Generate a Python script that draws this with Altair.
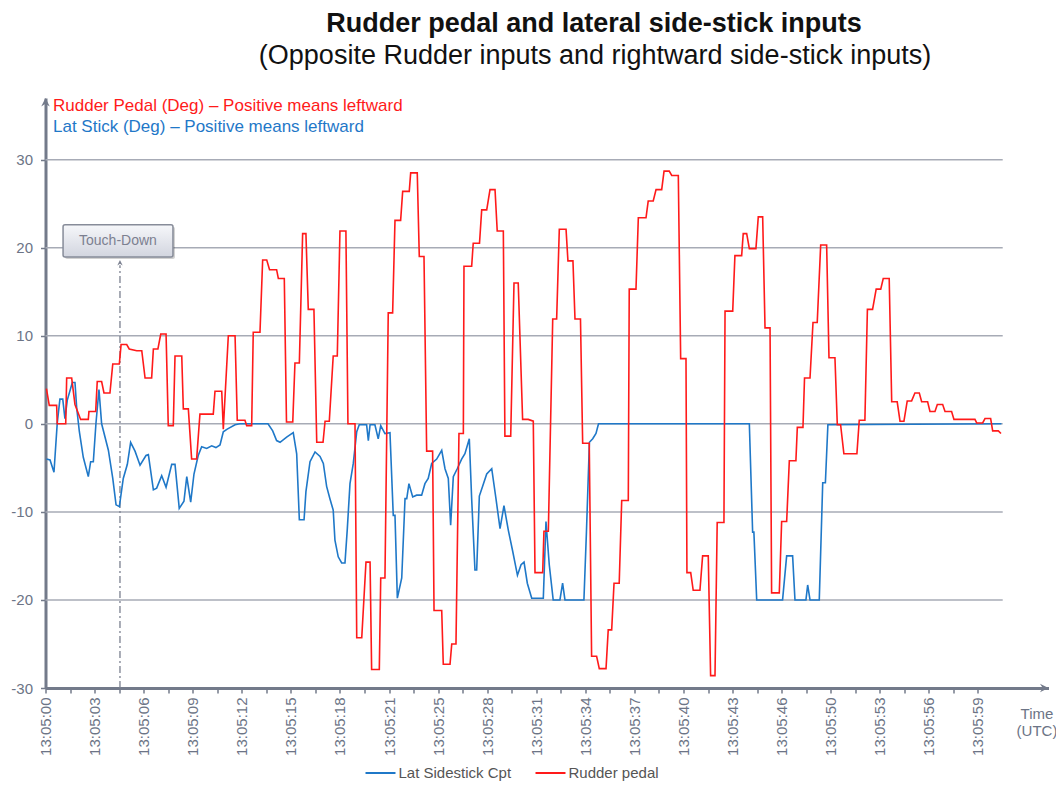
import json
import altair as alt
import pandas as pd

FONT = "Liberation Sans, Arial, Helvetica, sans-serif"

# ---------------- text ----------------
title_text = "Rudder pedal and lateral side-stick inputs"
subtitle_text = "(Opposite Rudder inputs and rightward side-stick inputs)"
rudder_axis_text = "Rudder Pedal (Deg) \u2013 Positive means leftward"
stick_axis_text = "Lat Stick (Deg) \u2013 Positive means leftward"
time_title = "Time\n(UTC)"
touchdown_label = "Touch-Down"

series_names = ["Lat Sidestick Cpt", "Rudder pedal"]
series_colors = ["#1f78c8", "#ff1a1a"]

# ---------------- data (seconds after 13:05:00, degrees) ----------------
rudder_t = [0.06, 0.24, 0.71, 0.75, 1.29, 1.35, 1.67, 1.88, 2.24, 2.73, 2.77, 3.20, 3.30, 3.58, 3.73, 4.11,
            4.29, 4.71, 4.82, 5.18, 5.34, 5.82, 6.14, 6.35, 6.77, 6.88, 7.17, 7.35, 7.69, 7.83, 8.15, 8.26,
            8.69, 8.79, 9.11, 9.32, 9.64, 9.85, 10.70, 10.81, 11.24, 11.34, 11.66, 12.09, 12.23, 12.72, 12.83,
            13.15, 13.25, 13.68, 13.85, 14.11, 14.29, 14.74, 14.85, 15.23, 15.37, 15.77, 15.91, 16.19, 16.40,
            16.61, 16.76, 17.12, 17.30, 17.70, 17.83, 18.10, 18.35, 18.61, 18.78, 19.16, 19.29, 19.74, 19.85,
            20.17, 20.44, 20.70, 20.80, 21.29, 21.38, 21.65, 21.86, 22.14, 22.29, 22.65, 22.78, 23.20, 23.29,
            23.71, 23.84, 24.14, 24.31, 24.69, 24.78, 25.27, 25.37, 25.80, 25.91, 26.18, 26.37, 26.65, 26.69,
            27.18, 27.28, 27.68, 27.82, 28.14, 28.35, 28.67, 28.81, 29.20, 29.30, 29.67, 29.88, 30.15, 30.43,
            30.79, 31.11, 31.22, 31.71, 31.79, 32.07, 32.35, 32.60, 32.77, 33.20, 33.32, 33.64, 33.77, 34.12,
            34.26, 34.68, 34.83, 35.15, 35.32, 35.75, 35.89, 36.11, 36.26, 36.59, 36.75, 37.17, 37.23, 37.66,
            37.81, 38.30, 38.44, 38.76, 38.94, 39.30, 39.45, 39.78, 39.94, 40.36, 40.51, 40.85, 40.91, 41.15,
            41.31, 41.74, 41.91, 42.27, 42.42, 42.70, 42.84, 43.27, 43.34, 43.83, 43.97, 44.40, 44.50, 44.72,
            44.89, 45.31, 45.46, 45.74, 45.89, 46.21, 46.31, 46.80, 46.95, 47.27, 47.44, 47.86, 47.95, 48.31,
            48.41, 48.76, 48.95, 49.22, 49.44, 49.82, 49.97, 50.35, 50.50, 50.71, 50.92, 51.75, 51.90, 52.26,
            52.42, 52.75, 52.98, 53.27, 53.43, 53.81, 53.97, 54.32, 54.50, 54.75, 54.96, 55.24, 55.45, 55.73,
            55.88, 56.26, 56.41, 56.73, 56.88, 57.22, 57.37, 57.79, 57.94, 59.28, 59.39, 59.77, 59.92, 60.28,
            60.41, 60.77, 60.94]
rudder_v = [4.0, 2.1, 2.1, 0.0, 0.0, 5.2, 5.2, 2.2, 0.5, 0.5, 1.4, 1.4, 4.8, 4.8, 3.5, 3.5,
            6.8, 6.8, 9.0, 9.0, 8.5, 8.3, 8.3, 5.2, 5.2, 8.5, 8.5, 10.2, 10.2, -0.2, -0.2, 7.7,
            7.7, 1.7, 1.7, -4.0, -4.0, 1.1, 1.1, 3.7, 3.7, -0.6, 10.0, 10.0, 0.4, 0.4, -0.2,
            -0.2, 10.4, 10.4, 18.6, 18.6, 17.5, 17.5, 16.5, 16.5, 0.2, 0.2, 6.9, 6.9, 21.6,
            21.6, 13.0, 13.0, -2.1, -2.1, 0.3, 0.3, 7.7, 7.7, 21.9, 21.9, 0.0, 0.0, -24.3,
            -24.3, -15.7, -15.7, -27.9, -27.9, -17.5, -17.5, 12.6, 12.6, 23.1, 23.1, 26.4, 26.4, 28.5,
            28.5, 19.0, 19.0, -3.1, -3.1, -21.2, -21.2, -27.3, -27.3, -25.0, -25.0, -1.1, -1.1, 17.9,
            17.9, 20.5, 20.5, 24.3, 24.3, 26.6, 26.6, 21.9, 21.9, -1.4, -1.4, 16.0, 16.0, 0.5,
            0.5, 0.3, -16.9, -16.9, -12.2, -12.2, 11.9, 11.9, 22.1, 22.1, 18.5, 18.5, 11.9, 11.9,
            -2.2, -2.2, -26.4, -26.4, -27.8, -27.8, -23.4, -23.4, -18.1, -18.1, -8.7, -8.7, 15.3, 15.3,
            23.4, 23.4, 25.3, 25.3, 26.6, 26.6, 28.7, 28.7, 28.2, 28.2, 7.4, 7.4, -16.9, -16.9,
            -18.9, -18.9, -15.0, -15.0, -28.6, -28.6, -11.2, -11.2, 12.8, 12.8, 19.1, 19.1, 21.6, 21.6,
            19.9, 19.9, 23.5, 23.5, 10.9, 10.9, -19.2, -19.2, -11.1, -11.1, -4.2, -4.2, -0.4, -0.4,
            5.2, 5.2, 11.5, 11.5, 20.3, 20.3, 7.5, 7.5, -0.1, -0.1, -3.4, -3.4, 0.4, 0.4,
            13.0, 13.0, 15.3, 15.3, 16.5, 16.5, 2.5, 2.5, 0.3, 0.3, 2.6, 2.6, 3.5, 3.5,
            2.5, 2.5, 1.4, 1.4, 2.2, 2.2, 1.4, 1.4, 0.5, 0.5, 0.1, 0.1, 0.6, 0.6,
            -0.8, -0.8, -1.1]

stick_t = [0.06, 0.29, 0.54, 0.75, 0.92, 1.10, 1.24, 1.39, 1.71, 1.88, 1.99, 2.16, 2.41, 2.73, 2.88, 3.05,
           3.22, 3.41, 3.58, 4.01, 4.29, 4.50, 4.71, 4.96, 5.22, 5.43, 5.71, 6.03, 6.41, 6.56, 6.88, 7.09,
           7.41, 7.69, 8.05, 8.26, 8.53, 8.83, 9.01, 9.26, 9.47, 9.74, 9.96, 10.28, 10.60, 10.87, 11.13,
           11.34, 11.59, 12.09, 12.40, 14.19, 14.49, 14.74, 14.96, 15.38, 15.80, 16.02, 16.19, 16.49, 16.61,
           16.87, 17.19, 17.51, 17.72, 17.93, 18.14, 18.35, 18.46, 18.67, 18.89, 19.10, 19.25, 19.42, 19.63,
           19.85, 20.01, 20.48, 20.59, 20.70, 21.01, 21.22, 21.38, 21.65, 21.97, 22.18, 22.29, 22.44, 22.72,
           22.93, 23.04, 23.18, 23.42, 23.67, 23.99, 24.20, 24.41, 24.63, 24.95, 25.27, 25.48, 25.69, 25.84,
           26.01, 26.26, 26.54, 26.75, 27.03, 27.18, 27.39, 27.50, 27.67, 27.88, 28.14, 28.46, 28.73, 28.99,
           29.24, 29.52, 29.80, 30.10, 30.33, 30.52, 30.73, 31.01, 31.75, 31.92, 32.13, 32.38, 32.81, 32.98,
           33.13, 34.34, 34.50, 34.69, 34.90, 35.11, 35.27, 44.89, 45.10, 45.18, 45.36, 47.01, 47.27, 47.65,
           47.80, 48.50, 48.61, 48.76, 49.35, 49.57, 49.74, 49.90, 60.97]
stick_v = [-4.0, -4.1, -5.5, 0.1, 2.8, 2.8, 0.6, 2.7, 4.7, 4.7, 1.8, -0.9, -3.8, -6.0, -4.3, -4.3,
           0.1, 3.9, 0.0, -3.0, -6.2, -9.2, -9.4, -6.2, -4.6, -2.1, -3.1, -4.7, -3.6, -3.5, -7.5, -7.3,
           -5.9, -7.2, -4.6, -4.6, -9.6, -8.8, -6.0, -8.9, -5.7, -3.6, -2.6, -2.8, -2.5, -2.7, -2.4,
           -0.9, -0.6, -0.1, 0.0, 0.0, -0.8, -1.9, -2.1, -1.5, -1.0, -3.4, -10.9, -10.9, -7.7,
           -4.3, -3.2, -3.7, -4.5, -7.1, -8.5, -9.8, -13.2, -15.1, -15.8, -15.8, -11.9, -6.8, -4.5,
           -0.9, -0.1, -0.1, -1.9, -0.1, -0.1, -1.7, -0.2, -1.1, -1.0, -10.4, -10.4, -19.8, -17.5,
           -8.5, -8.5, -6.8, -8.3, -8.1, -8.1, -6.8, -6.2, -4.5, -4.0, -3.0, -5.1, -6.2, -11.5,
           -6.0, -5.1, -4.0, -3.4, -1.7, -8.5, -16.6, -16.6, -8.2, -7.1, -5.7, -5.1, -8.5, -11.9,
           -9.3, -12.1, -14.5, -17.2, -16.0, -15.7, -18.1, -19.8, -19.8, -11.1, -16.0, -20.0, -20.0, -18.1,
           -20.0, -20.0, -12.3, -2.1, -1.7, -1.1, 0.0, 0.0, -12.3, -12.3, -20.0, -20.0, -15.0, -15.0,
           -20.0, -20.0, -18.3, -20.0, -20.0, -6.7, -6.7, -0.1, 0.0]

# ---------------- axes ----------------
tick_labels = ["13:05:00", "13:05:03", "13:05:06", "13:05:09", "13:05:12", "13:05:15", "13:05:18",
               "13:05:21", "13:05:25", "13:05:28", "13:05:31", "13:05:34", "13:05:37", "13:05:40",
               "13:05:43", "13:05:46", "13:05:50", "13:05:53", "13:05:56", "13:05:59"]
tick_step = 3.13          # seconds between labelled ticks
y_ticks = [-30, -20, -10, 0, 10, 20, 30]
grid_vals = [-20, -10, 0, 10, 20, 30]
grid_end = 61.05
x_max = 63.97
y_min, y_max = -30, 37

# annotation values
touchdown_t = 4.75
touchdown_top = 18.0
touchdown_tip = 18.6
box_t = [1.12, 8.13]
box_v = [18.95, 22.6]
box_text_pos = [4.62, 20.75]

AXIS_GREY = "#737a8a"
LABEL_GREY = "#6c7486"

minor_ticks = [round(i * tick_step / 2, 4) for i in range(2 * len(tick_labels) - 1)]
half = tick_step / 2
label_expr = (f"round(datum.value / {half}) % 2 == 0 ? "
              f"{json.dumps(tick_labels)}[round(datum.value / {tick_step})] : ''")

x_scale = alt.Scale(domain=[0, x_max], nice=False, zero=False)
y_scale = alt.Scale(domain=[y_min, y_max], nice=False, zero=False)

x_axis = alt.Axis(values=minor_ticks, labelExpr=label_expr, labelAngle=270, labelFontSize=15,
                  labelFont=FONT, labelColor=LABEL_GREY, labelPadding=4, labelOverlap=False,
                  labelFlush=False, tickSize=5, tickWidth=1.5, tickColor=AXIS_GREY, domainColor=AXIS_GREY,
                  domainWidth=3, grid=False, title=None)
y_axis = alt.Axis(values=y_ticks, labelExpr="'' + datum.value", labelFontSize=15, labelFont=FONT,
                  labelColor=LABEL_GREY, labelPadding=8,
                  tickSize=5, tickWidth=1.5, tickColor=AXIS_GREY, domainColor=AXIS_GREY, domainWidth=3,
                  grid=False, title=None, labelFlush=False)


def X(field):
    return alt.X(field, scale=x_scale, axis=x_axis)


def Y(field):
    return alt.Y(field, scale=y_scale, axis=y_axis)


# ---------------- layers ----------------
grid_df = pd.DataFrame({"g": grid_vals, "x0": [0] * len(grid_vals), "x1": [grid_end] * len(grid_vals)})
grid = alt.Chart(grid_df).mark_rule(color="#a7abb6", strokeWidth=1.5).encode(
    x=X("x0:Q"), x2="x1:Q", y=Y("g:Q"))

lines_df = pd.concat([
    pd.DataFrame({"series": series_names[0], "t": stick_t, "v": stick_v}),
    pd.DataFrame({"series": series_names[1], "t": rudder_t, "v": rudder_v}),
], ignore_index=True)

color = alt.Color("series:N", scale=alt.Scale(domain=series_names, range=series_colors),
                  legend=alt.Legend(orient="none", legendX=319, legendY=659, direction="horizontal",
                                    title=None, symbolType="stroke", symbolSize=900, symbolStrokeWidth=2,
                                    labelFontSize=15, labelFont=FONT, labelColor="#555555",
                                    columnPadding=20, labelOffset=2))

blue_line = alt.Chart(lines_df).transform_filter(alt.datum.series == series_names[0]).mark_line(
    strokeWidth=1.6).encode(x=X("t:Q"), y=Y("v:Q"), color=color)
red_line = alt.Chart(lines_df).transform_filter(alt.datum.series == series_names[1]).mark_line(
    strokeWidth=1.6).encode(x=X("t:Q"), y=Y("v:Q"), color=color)

td_df = pd.DataFrame({"t": [touchdown_t], "v0": [y_min], "v1": [touchdown_top], "tip": [touchdown_tip]})
td_rule = alt.Chart(td_df).mark_rule(color="#7b8090", strokeWidth=1.3, strokeDash=[7, 3, 2, 3]).encode(
    x=X("t:Q"), y=Y("v0:Q"), y2="v1:Q")
up_arrow = "M0,0 L0.9,1.8 L0,1.2 L-0.9,1.8 Z"
right_arrow = "M0,0 L-1.8,-0.9 L-1.2,0 L-1.8,0.9 Z"
td_tip = alt.Chart(td_df).mark_point(shape=up_arrow, filled=True, color="#7b8090", size=36, opacity=1).encode(
    x=X("t:Q"), y=Y("tip:Q"))

box_df = pd.DataFrame({"t0": [box_t[0]], "t1": [box_t[1]], "v0": [box_v[0]], "v1": [box_v[1]],
                       "tc": [box_text_pos[0]], "vc": [box_text_pos[1]], "txt": [touchdown_label]})
box_shadow = alt.Chart(box_df).mark_rect(color="#000000", opacity=0.18, cornerRadius=2, xOffset=2,
                                         x2Offset=2, yOffset=2, y2Offset=2).encode(
    x=X("t0:Q"), x2="t1:Q", y=Y("v0:Q"), y2="v1:Q")
box = alt.Chart(box_df).mark_rect(
    fill=alt.Gradient(gradient="linear", x1=0, y1=0, x2=0, y2=1,
                      stops=[alt.GradientStop(offset=0, color="#f6f7fa"),
                             alt.GradientStop(offset=1, color="#d2d5df")]),
    stroke="#878c99", strokeWidth=1.5, cornerRadius=2).encode(
    x=X("t0:Q"), x2="t1:Q", y=Y("v0:Q"), y2="v1:Q")
box_text = alt.Chart(box_df).mark_text(font=FONT, fontSize=14, color="#7c8090").encode(
    x=X("tc:Q"), y=Y("vc:Q"), text="txt:N")

arrows_df = pd.DataFrame({"t": [0, x_max], "v": [y_max, y_min], "shape": ["up", "right"]})
y_arrow = alt.Chart(arrows_df).transform_filter(alt.datum.shape == "up").mark_point(
    shape=up_arrow, filled=True, color=AXIS_GREY, size=90, opacity=1).encode(x=X("t:Q"), y=Y("v:Q"))
x_arrow = alt.Chart(arrows_df).transform_filter(alt.datum.shape == "right").mark_point(
    shape=right_arrow, filled=True, color=AXIS_GREY, size=90, opacity=1).encode(x=X("t:Q"), y=Y("v:Q"))

# ---------------- texts ----------------
def text_layer(txt, x, y, **kw):
    return alt.Chart(pd.DataFrame({"txt": [txt]})).mark_text(font=FONT, **kw).encode(
        x=alt.value(x), y=alt.value(y), text="txt:N")


title_layer = text_layer(title_text, 548.5, -66, fontSize=27, fontWeight="bold", color="#111111",
                         align="center", baseline="alphabetic")
subtitle_layer = text_layer(subtitle_text, 549.5, -34, fontSize=27, color="#111111",
                            align="center", baseline="alphabetic")
rudder_txt = text_layer(rudder_axis_text, 7.5, 8, fontSize=17, color="#ff1a1a", align="left",
                        baseline="middle")
stick_txt = text_layer(stick_axis_text, 7.5, 29, fontSize=17, color="#1f78c8", align="left",
                       baseline="middle")
time_txt = text_layer(time_title, 991.5, 616, fontSize=15, color=LABEL_GREY, align="center",
                      baseline="middle", lineBreak="\n", lineHeight=17)

chart = alt.layer(
    grid, td_rule, td_tip, box_shadow, box, box_text, blue_line, red_line, y_arrow, x_arrow,
    title_layer, subtitle_layer, rudder_txt, stick_txt, time_txt
).properties(
    width=1003, height=590,
    autosize=alt.AutoSizeParams(type="none"),
    padding={"left": 37.5, "top": 90, "right": 7.5, "bottom": 93},
    background="white",
).configure_view(stroke=None)

chart.save("out.html", embed_options={"renderer": "svg", "actions": False})
